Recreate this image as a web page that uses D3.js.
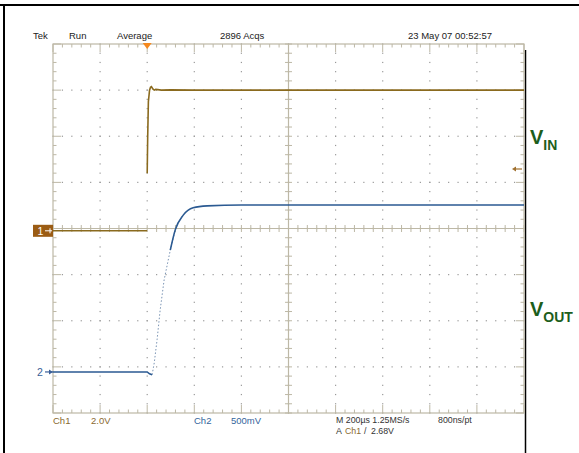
<!DOCTYPE html>
<html>
<head>
<meta charset="utf-8">
<script src="https://cdn.jsdelivr.net/npm/d3@7"></script>
<style>
  body { margin: 0; background: #fff; }
  text { font-family: "Liberation Sans", Arial, sans-serif; }
</style>
</head>
<body>
<div class="canvas"></div>
<script>
// scope settings
const timeDiv = 200        // µs per division
const ch1Scale = 2.0       // V per division
const ch2Scale = 0.5       // V per division
const ch1Pos = -0.05       // division offset of ch1 ground
const ch2Pos = -3.11       // division offset of ch2 ground
const trigLevel = 2.68     // V on ch1

// ch1 (VIN) trace, time in µs, null = gap
const ch1Time = [-400, -200, 0, 0, 0, 2, 5, 10, 14, 18, 24, 30, 36, 45, 60, 100, 200, 400, 800, 1200, 1600]
const ch1Volts = [0, 0, 0, null, 2.5, 4.0, 5.6, 6.1, 6.22, 6.25, 6.15, 6.1, 6.13, 6.12, 6.1, 6.11, 6.1, 6.1, 6.1, 6.1, 6.1]

// ch2 (VOUT) trace
const ch2Time = [-400, -200, 0, 10, 21, 30, 42, 55, 72, 98, 119, 153, 195, 255, 400, 800, 1200, 1600]
const ch2Volts = [0, 0, 0, -0.02, -0.03, 0.1, 0.35, 0.67, 1.0, 1.32, 1.54, 1.7, 1.78, 1.8, 1.81, 1.81, 1.81, 1.81]

// header / footer texts
const topLabels = ['Tek', 'Run', 'Average', '2896 Acqs', '23 May 07 00:52:57']
const topLabelX = [33, 69, 117, 220, 408]

const svg = d3.select('.canvas')
  .append('svg')
    .attr('width', 579)
    .attr('height', 453)

// frame
svg.append('line').attr('x1', 0).attr('x2', 579).attr('y1', 5).attr('y2', 5)
  .attr('stroke', '#000').attr('stroke-width', 2)
svg.append('line').attr('x1', 4).attr('x2', 4).attr('y1', 4).attr('y2', 453)
  .attr('stroke', '#000').attr('stroke-width', 2)
svg.append('line').attr('x1', 525.5).attr('x2', 525.5).attr('y1', 50).attr('y2', 453)
  .attr('stroke', '#000').attr('stroke-width', 1.5)

// scales
const x = d3.scaleLinear()
  .domain([-2 * timeDiv, 8 * timeDiv])
  .range([53, 524])
const yDiv = d3.scaleLinear()
  .domain([-4, 4])
  .range([413, 44])

const grid = svg.append('g')
const gridCol = '#bdb8a6'
const dotCol = '#999'

// dotted grid lines
const majorT = d3.range(-2, 9).map(d => d * timeDiv)
const minorT = d3.range(-2, 8.01, 0.2).map(d => d * timeDiv)
const majorD = d3.range(-4, 5)
const minorD = d3.range(-4, 4.01, 0.2)

majorT.slice(1, -1).forEach(t => {
  minorD.forEach(d => {
    grid.append('rect').attr('x', x(t) - 0.6).attr('y', yDiv(d) - 0.6)
      .attr('width', 1.2).attr('height', 1.2).attr('fill', dotCol)
  })
})
majorD.slice(1, -1).forEach(d => {
  minorT.forEach(t => {
    grid.append('rect').attr('x', x(t) - 0.6).attr('y', yDiv(d) - 0.6)
      .attr('width', 1.2).attr('height', 1.2).attr('fill', dotCol)
  })
})

// border
grid.append('rect')
  .attr('x', x.range()[0]).attr('y', yDiv(4))
  .attr('width', x.range()[1] - x.range()[0])
  .attr('height', yDiv(-4) - yDiv(4))
  .attr('fill', 'none').attr('stroke', gridCol).attr('stroke-width', 1.2)

// center axes
grid.append('line').attr('x1', x.range()[0]).attr('x2', x.range()[1])
  .attr('y1', yDiv(0)).attr('y2', yDiv(0)).attr('stroke', gridCol).attr('stroke-width', 1.2)
grid.append('line').attr('x1', x(3 * timeDiv)).attr('x2', x(3 * timeDiv))
  .attr('y1', yDiv(4)).attr('y2', yDiv(-4)).attr('stroke', gridCol).attr('stroke-width', 1.2)

// ticks on border and center axes
minorT.forEach((t, i) => {
  const len = i % 5 === 0 ? 8 : 3.5
  grid.append('line').attr('x1', x(t)).attr('x2', x(t))
    .attr('y1', yDiv(4)).attr('y2', yDiv(4) + len).attr('stroke', gridCol)
  grid.append('line').attr('x1', x(t)).attr('x2', x(t))
    .attr('y1', yDiv(-4)).attr('y2', yDiv(-4) - len).attr('stroke', gridCol)
  grid.append('line').attr('x1', x(t)).attr('x2', x(t))
    .attr('y1', yDiv(0) - 3.5).attr('y2', yDiv(0) + 3.5).attr('stroke', gridCol)
})
minorD.forEach((d, i) => {
  const len = i % 5 === 0 ? 8 : 3.5
  grid.append('line').attr('x1', x.range()[0]).attr('x2', x.range()[0] + len)
    .attr('y1', yDiv(d)).attr('y2', yDiv(d)).attr('stroke', gridCol)
  grid.append('line').attr('x1', x.range()[1]).attr('x2', x.range()[1] - len)
    .attr('y1', yDiv(d)).attr('y2', yDiv(d)).attr('stroke', gridCol)
  grid.append('line').attr('x1', x(3 * timeDiv) - 3.5).attr('x2', x(3 * timeDiv) + 3.5)
    .attr('y1', yDiv(d)).attr('y2', yDiv(d)).attr('stroke', gridCol)
})

// traces
const ch1Data = ch1Time.map((t, i) => ({t, v: ch1Volts[i]}))
const ch2Data = ch2Time.map((t, i) => ({t, v: ch2Volts[i]}))

const ch1Line = d3.line()
  .defined(d => d.v !== null)
  .x(d => x(d.t))
  .y(d => yDiv(d.v / ch1Scale + ch1Pos))

const ch2Y = d => yDiv(d.v / ch2Scale + ch2Pos)

svg.append('path')
  .attr('d', ch1Line(ch1Data))
  .attr('fill', 'none')
  .attr('stroke', '#8a6a1e')
  .attr('stroke-width', 1.6)

// fast edge of ch2 is drawn light and dotted
svg.append('path')
  .attr('d', d3.line().x(d => x(d.t)).y(ch2Y)(ch2Data.filter(d => d.t >= 21 && d.t <= 119)))
  .attr('fill', 'none')
  .attr('stroke', '#7a94b4')
  .attr('stroke-width', 1)
  .attr('stroke-dasharray', '1.5,2')

svg.append('path')
  .attr('d', d3.line().x(d => x(d.t)).y(ch2Y)(ch2Data.filter(d => d.t <= 21)))
  .attr('fill', 'none').attr('stroke', '#2b5a92').attr('stroke-width', 1.6)
svg.append('path')
  .attr('d', d3.line().curve(d3.curveMonotoneX).x(d => x(d.t)).y(ch2Y)(ch2Data.filter(d => d.t >= 98)))
  .attr('fill', 'none').attr('stroke', '#2b5a92').attr('stroke-width', 1.6)

// trigger position marker
const tx = x(0)
svg.append('path')
  .attr('d', `M${tx - 4.5},${yDiv(4) - 1} L${tx + 4.5},${yDiv(4) - 1} L${tx},${yDiv(4) + 5} Z`)
  .attr('fill', '#f5891f')

// trigger level arrow
const ty = yDiv(trigLevel / ch1Scale + ch1Pos)
svg.append('line').attr('x1', 514).attr('x2', 522).attr('y1', ty).attr('y2', ty)
  .attr('stroke', '#a0702e').attr('stroke-width', 1.2)
svg.append('path').attr('d', `M512,${ty} L516,${ty - 2.5} L516,${ty + 2.5} Z`).attr('fill', '#a0702e')

// ch1 marker
const c1y = yDiv(ch1Pos)
svg.append('rect').attr('x', 33).attr('y', c1y - 6).attr('width', 20).attr('height', 12)
  .attr('fill', '#9b5c14')
svg.append('text').attr('x', 37.5).attr('y', c1y + 4).text('1')
  .attr('fill', '#fff').attr('font-size', 10.5)
svg.append('line').attr('x1', 45).attr('x2', 52).attr('y1', c1y).attr('y2', c1y)
  .attr('stroke', '#fff').attr('stroke-width', 1)
svg.append('line').attr('x1', 50).attr('x2', 50).attr('y1', c1y - 2.5).attr('y2', c1y + 2.5)
  .attr('stroke', '#fff').attr('stroke-width', 1)

// ch2 marker
const c2y = yDiv(ch2Pos)
svg.append('text').attr('x', 37).attr('y', c2y + 4).text('2')
  .attr('fill', '#3a5f98').attr('font-size', 10.5)
svg.append('line').attr('x1', 45).attr('x2', 53).attr('y1', c2y).attr('y2', c2y)
  .attr('stroke', '#3a5f98').attr('stroke-width', 1.2)
svg.append('path').attr('d', `M53,${c2y} L49,${c2y - 2.5} L49,${c2y + 2.5} Z`).attr('fill', '#3a5f98')

// header
topLabels.forEach((s, i) => {
  svg.append('text').attr('x', topLabelX[i]).attr('y', 39).text(s)
    .attr('font-size', 9.5).attr('fill', '#222')
})

// footer
const foot = svg.append('g').attr('font-size', 9.5)
foot.append('text').attr('x', 53).attr('y', 424).text('Ch1').attr('fill', '#8a6a30')
foot.append('text').attr('x', 91).attr('y', 424).text('2.0V').attr('fill', '#8a6a30')
foot.append('text').attr('x', 194).attr('y', 424).text('Ch2').attr('fill', '#34649c')
foot.append('text').attr('x', 231).attr('y', 424).text('500mV').attr('fill', '#34649c')
foot.append('text').attr('x', 336).attr('y', 423).attr('font-size', 8.8)
  .text('M 200µs 1.25MS/s').attr('fill', '#333')
foot.append('text').attr('x', 438).attr('y', 423).attr('font-size', 8.8)
  .text('800ns/pt').attr('fill', '#333')
const trigText = foot.append('text').attr('y', 433.5)
  .attr('font-size', 8.8).attr('fill', '#333')
trigText.append('tspan').attr('x', 336).text('A')
trigText.append('tspan').attr('x', 345).attr('fill', '#8a6a30').text('Ch1')
trigText.append('tspan').attr('x', 364).text('/')
trigText.append('tspan').attr('x', 371).text('2.68V')

// side labels
const addLabel = (y, sub) => {
  const t = svg.append('text').attr('x', 530).attr('y', y)
    .attr('fill', '#1c5e1c').attr('font-weight', 'bold')
  t.append('tspan').attr('font-size', 20).text('V')
  t.append('tspan').attr('font-size', 14).attr('dy', 6).text(sub)
}
addLabel(144, 'IN')
addLabel(316, 'OUT')
</script>
</body>
</html>
